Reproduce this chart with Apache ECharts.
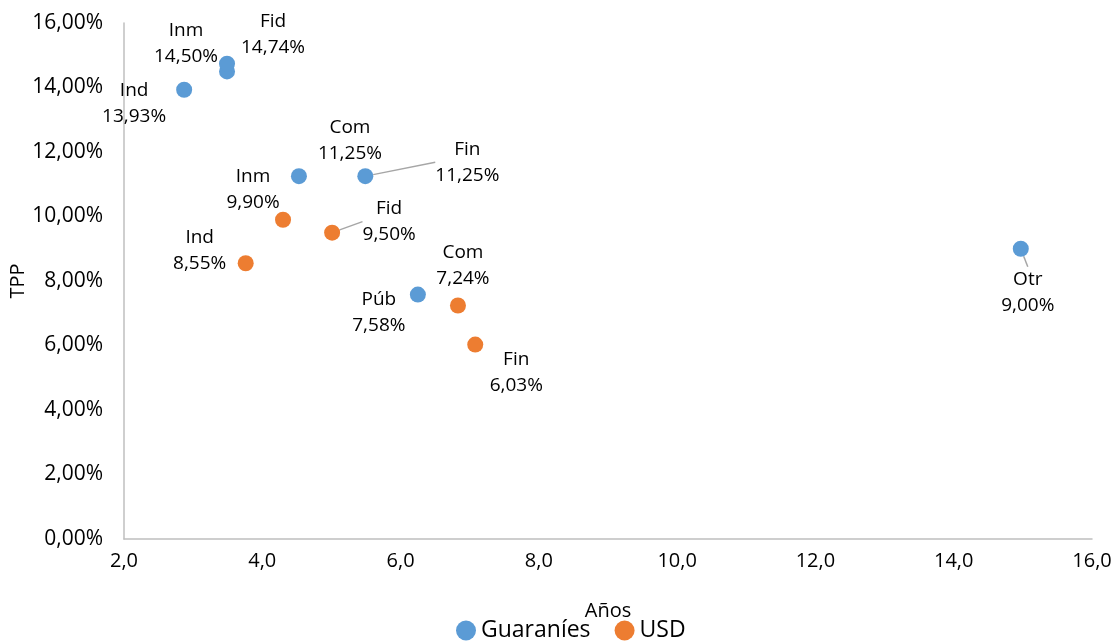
<!DOCTYPE html>
<html>
<head>
<meta charset="utf-8">
<script src="https://cdn.jsdelivr.net/npm/echarts@6/dist/echarts.min.js"></script>
<style>
  html, body { margin: 0; padding: 0; background: #fff; }
  #chart { width: 1117px; height: 641px; }
</style>
</head>
<body>
<div id="chart"></div>
<script>
// Guaraníes
const pygNames = ['Ind', 'Inm', 'Fid', 'Com', 'Fin', 'Púb', 'Otr']
const pygYears = [2.87, 3.49, 3.49, 4.53, 5.49, 6.25, 14.97]
const pygTpp = [13.93, 14.50, 14.74, 11.25, 11.25, 7.58, 9.00]

// USD
const usdNames = ['Ind', 'Inm', 'Fid', 'Com', 'Fin']
const usdYears = [3.76, 4.30, 5.01, 6.83, 7.08]
const usdTpp = [8.55, 9.90, 9.50, 7.24, 6.03]

// label shifts (px) from the marker, and which ones get a leader line
const pygShift = [[-50, 14], [-41, -28], [46, -29], [51, -36], [102, -14], [-39, 18], [7, 44]]
const usdShift = [[-46, -13], [-30, -30], [57, -11], [5, -40], [41, 28]]
const pygLine = [false, false, false, false, true, false, true]
const usdLine = [false, false, true, false, false]

const FONT = 'Open Sans'
const pct = v => v.toFixed(2).replace('.', ',') + '%'

function points(names, xs, ys, lines) {
  return names.map((n, i) => ({
    name: n,
    value: [xs[i], ys[i]],
    labelLine: { show: lines[i] }
  }))
}

const shifts = [pygShift, usdShift]

const option = {
  animation: false,
  grid: { left: 124, right: 25, top: 23, bottom: 102, outerBoundsMode: 'none' },
  legend: {
    left: 451,
    top: 614,
    itemGap: 24,
    itemWidth: 20,
    itemHeight: 20,
    textStyle: { fontFamily: FONT, fontSize: 23, color: '#000' },
    data: [{ name: 'Guaraníes', icon: 'circle' }, { name: 'USD', icon: 'circle' }]
  },
  xAxis: {
    type: 'value',
    min: 2,
    max: 16,
    interval: 2,
    name: 'Años',
    nameLocation: 'middle',
    nameGap: 62,
    nameMoveOverlap: false,
    nameTextStyle: { fontFamily: FONT, fontSize: 20, color: '#000' },
    axisLine: { show: true, lineStyle: { color: '#bfbfbf', width: 1.5 } },
    axisTick: { show: false },
    splitLine: { show: false },
    axisLabel: {
      margin: 12,
      fontFamily: FONT, fontSize: 20, color: '#000',
      formatter: v => v.toFixed(1).replace('.', ',')
    }
  },
  yAxis: {
    type: 'value',
    min: 0,
    max: 16,
    interval: 2,
    name: 'TPP',
    nameLocation: 'middle',
    nameGap: 96,
    nameMoveOverlap: false,
    nameRotate: 90,
    nameTextStyle: { fontFamily: FONT, fontSize: 20, color: '#000' },
    axisLine: { show: true, lineStyle: { color: '#bfbfbf', width: 1.5 } },
    axisTick: { show: false },
    splitLine: { show: false },
    axisLabel: {
      margin: 21,
      fontFamily: FONT, fontSize: 21, color: '#000',
      formatter: v => pct(v)
    }
  },
  series: [
    {
      name: 'Guaraníes',
      type: 'scatter',
      symbolSize: 16,
      itemStyle: { color: '#5b9bd5', opacity: 1 },
      data: points(pygNames, pygYears, pygTpp, pygLine)
    },
    {
      name: 'USD',
      type: 'scatter',
      symbolSize: 16,
      itemStyle: { color: '#ed7d31', opacity: 1 },
      data: points(usdNames, usdYears, usdTpp, usdLine)
    }
  ].map(s => Object.assign(s, {
    label: {
      show: true,
      position: 'inside',
      align: 'center',
      verticalAlign: 'middle',
      fontFamily: FONT,
      fontSize: 19,
      lineHeight: 26,
      color: '#000',
      formatter: p => p.name + '\n' + pct(p.value[1])
    },
    labelLine: { lineStyle: { color: '#a6a6a6', width: 1.5 } },
    labelLayout: p => {
      const d = shifts[p.seriesIndex][p.dataIndex]
      return { dx: d[0], dy: d[1] }
    }
  }))
}

const myChart = echarts.init(document.getElementById('chart'))
myChart.setOption(option)
window.addEventListener('resize', () => {
  myChart.resize()
})
</script>
</body>
</html>
